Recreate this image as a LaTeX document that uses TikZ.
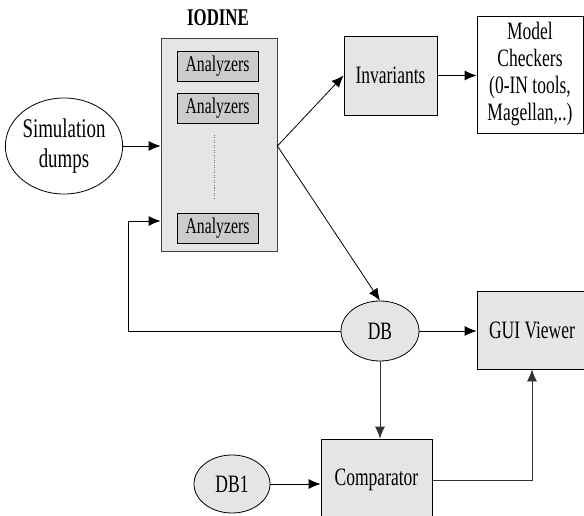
\documentclass[tikz,border=0pt]{standalone}
\usepackage{fontspec}
\setmainfont{Liberation Serif}[FakeStretch=0.7]
\usetikzlibrary{shapes,positioning,arrows.meta,calc}

\begin{document}
\begin{tikzpicture}[x=1pt, y=-1pt, font=\fontsize{25}{27}\selectfont,
    box/.style={draw, fill=black!10, line width=0.8pt, inner sep=0pt},
    anbox/.style={draw, fill=black!20, line width=0.8pt, minimum width=81pt, minimum height=30pt, inner sep=0pt, font=\fontsize{22.5}{24}\selectfont},
    blob/.style={draw, ellipse, line width=0.8pt, inner sep=0pt},
    arr/.style={-{Latex[length=12pt,width=10pt]}, line width=0.8pt}]
         \clip (0,0) rectangle (584,516);
         % IODINE block with its analyzers
         \node[font=\fontsize{24}{26}\selectfont\bfseries] (title) at (218,18) {IODINE};
         \node[box, draw=black!75, minimum width=116pt, minimum height=213pt] (iodine) at (219,144.5) {};
         \foreach \y/\name in {66/an1,108/an2,228/an3}{\node[anbox] (\name) at (217.5,\y) {Analyzers};}
         \draw[dash pattern=on 1pt off 1.5pt, line width=1pt, black!55] (214,135) -- (214,198);
         \node[blob, minimum width=108pt, minimum height=96pt, align=center, font=\fontsize{27}{30}\selectfont] (sim) at (64,146) {Simulation\\dumps};
         \node[box, minimum width=93pt, minimum height=79pt] (inv) at (390.5,75.5) {Invariants};
         \node[box, fill=white, minimum width=106pt, minimum height=117pt, align=center] (mc) at (530,74.5) {Model\\Checkers\\(0-IN tools,\\Magellan,..)};
         \node[blob, fill=black!10, minimum width=78pt, minimum height=60pt] (db) at (380,331) {DB};
         \node[box, minimum width=110pt, minimum height=78pt] (gui) at (532,330) {GUI Viewer};
         \node[box, minimum width=111pt, minimum height=82pt] (comp) at (376.5,480) {Comparator};
         \node[blob, fill=black!10, minimum width=76pt, minimum height=58pt] (db1) at (232,484) {DB1};
         \coordinate (fork) at (iodine.east |- sim.east);
         \coordinate (fb) at (128,221);
         % connectors
         \draw[arr] (sim.east) -- (sim.east -| iodine.west);
         \draw[line width=0.8pt] (iodine.east) -- (fork);
         \draw[arr] (fork) -- (inv.west);
         \draw[arr] (fork) -- (db.north);
         \draw[arr] (inv.east) -- (inv.east -| mc.west);
         \draw[arr] (db.west) -| (fb) -- (fb -| iodine.west);
         \draw[arr] (db.east) -- (db.east -| gui.west);
         \draw[arr, black!80] (db.south) -- (db.south |- comp.north);
         \draw[arr] (db1.east) -- (db1.east -| comp.west);
         \draw[arr, black!80] (comp.east) -| (gui.south);
\end{tikzpicture}
\end{document}
